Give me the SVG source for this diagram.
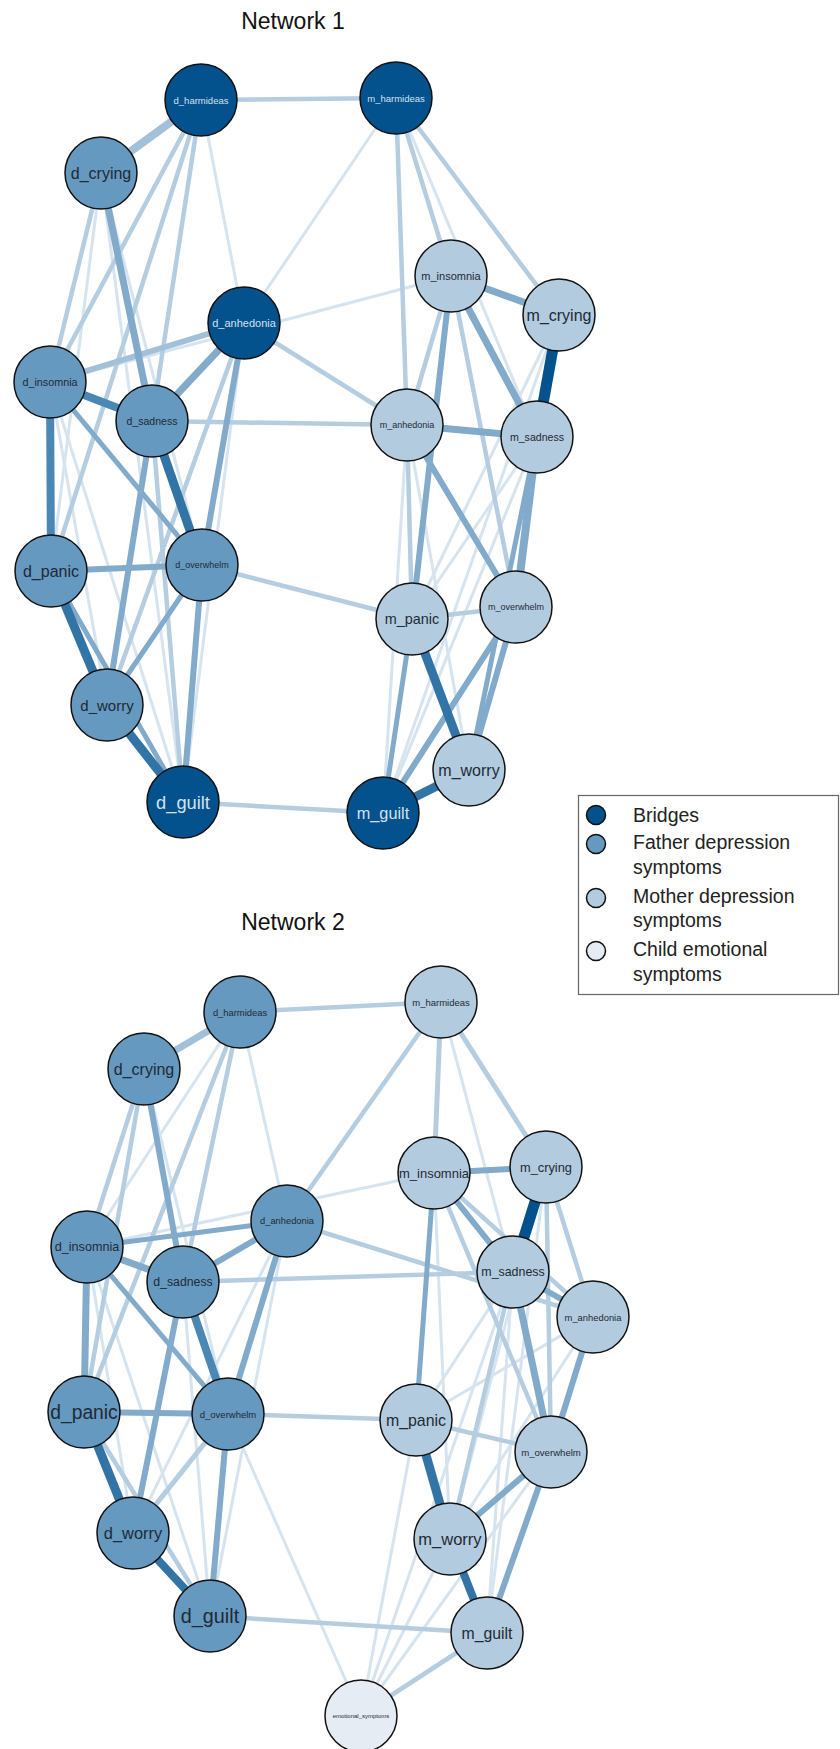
<svg xmlns="http://www.w3.org/2000/svg" width="840" height="1749" viewBox="0 0 840 1749">
<style>
text{font-family:"Liberation Sans",Arial,sans-serif;text-anchor:middle;dominant-baseline:central}
.title{font-size:23px;fill:#111;dominant-baseline:auto}
.n circle{stroke:#111;stroke-width:1.5}
.br{fill:#03518d}
.fa{fill:#6699bf}
.mo{fill:#b3cbde}
.ch{fill:#e5ecf3}
.lt{fill:#d3e2ef}
.dk{fill:#1e2a36}
line{stroke-linecap:butt}
.w1{stroke:#d6e4ef;stroke-width:3}
.w2{stroke:#b5cde0;stroke-width:4.5}
.w3{stroke:#a2c0d8;stroke-width:7}
.w4{stroke:#81aacb;stroke-width:6}
.w5{stroke:#4b87b5;stroke-width:8}
.w6{stroke:#3374a6;stroke-width:9}
.w7{stroke:#03528e;stroke-width:11}
.leg text{text-anchor:start;dominant-baseline:auto;font-size:19.5px;fill:#222}
</style>
<text class="title" x="293" y="29">Network 1</text>
<text class="title" x="293" y="930">Network 2</text>
<g id="connectors">
<!-- Network 1 -->
<line class="w1" x1="201" y1="100" x2="244" y2="323"/>
<line class="w1" x1="396" y1="98" x2="244" y2="323"/>
<line class="w1" x1="50" y1="382" x2="451" y2="276"/>
<line class="w1" x1="101" y1="173" x2="51" y2="571"/>
<line class="w1" x1="101" y1="173" x2="183" y2="802"/>
<line class="w1" x1="101" y1="173" x2="202" y2="565"/>
<line class="w1" x1="244" y1="323" x2="183" y2="802"/>
<line class="w1" x1="50" y1="382" x2="183" y2="802"/>
<line class="w1" x1="50" y1="382" x2="107" y2="705"/>
<line class="w1" x1="396" y1="98" x2="537" y2="437"/>
<line class="w1" x1="559" y1="315" x2="412" y2="619"/>
<line class="w1" x1="559" y1="315" x2="383" y2="813"/>
<line class="w1" x1="407" y1="425" x2="469" y2="770"/>
<line class="w1" x1="407" y1="425" x2="383" y2="813"/>
<line class="w1" x1="537" y1="437" x2="412" y2="619"/>
<line class="w1" x1="537" y1="437" x2="383" y2="813"/>
<line class="w2" x1="201" y1="100" x2="396" y2="98"/>
<line class="w2" x1="201" y1="100" x2="50" y2="382"/>
<line class="w2" x1="201" y1="100" x2="152" y2="421"/>
<line class="w2" x1="201" y1="100" x2="51" y2="571"/>
<line class="w2" x1="101" y1="173" x2="50" y2="382"/>
<line class="w2" x1="244" y1="323" x2="107" y2="705"/>
<line class="w2" x1="152" y1="421" x2="183" y2="802"/>
<line class="w2" x1="152" y1="421" x2="407" y2="425"/>
<line class="w2" x1="244" y1="323" x2="407" y2="425"/>
<line class="w2" x1="202" y1="565" x2="412" y2="619"/>
<line class="w2" x1="183" y1="802" x2="383" y2="813"/>
<line class="w2" x1="396" y1="98" x2="451" y2="276"/>
<line class="w2" x1="396" y1="98" x2="559" y2="315"/>
<line class="w2" x1="396" y1="98" x2="407" y2="425"/>
<line class="w2" x1="451" y1="276" x2="407" y2="425"/>
<line class="w2" x1="451" y1="276" x2="516" y2="607"/>
<line class="w2" x1="407" y1="425" x2="412" y2="619"/>
<line class="w2" x1="412" y1="619" x2="516" y2="607"/>
<line class="w3" x1="201" y1="100" x2="101" y2="173" style="stroke-width:8"/>
<line class="w3" x1="50" y1="382" x2="244" y2="323" style="stroke-width:6"/>
<line class="w4" x1="101" y1="173" x2="152" y2="421" style="stroke-width:7"/>
<line class="w4" x1="244" y1="323" x2="152" y2="421" style="stroke-width:7"/>
<line class="w4" x1="244" y1="323" x2="202" y2="565"/>
<line class="w4" x1="50" y1="382" x2="202" y2="565" style="stroke-width:5"/>
<line class="w4" x1="152" y1="421" x2="107" y2="705"/>
<line class="w4" x1="51" y1="571" x2="202" y2="565"/>
<line class="w4" x1="51" y1="571" x2="183" y2="802" style="stroke-width:5"/>
<line class="w4" x1="107" y1="705" x2="202" y2="565" style="stroke-width:5"/>
<line class="w4" x1="202" y1="565" x2="183" y2="802"/>
<line class="w4" x1="451" y1="276" x2="559" y2="315" style="stroke-width:7"/>
<line class="w4" x1="451" y1="276" x2="412" y2="619"/>
<line class="w4" x1="451" y1="276" x2="537" y2="437" style="stroke-width:7"/>
<line class="w4" x1="407" y1="425" x2="537" y2="437" style="stroke-width:7"/>
<line class="w4" x1="407" y1="425" x2="516" y2="607"/>
<line class="w4" x1="537" y1="437" x2="516" y2="607" style="stroke-width:8"/>
<line class="w4" x1="537" y1="437" x2="469" y2="770" style="stroke-width:5"/>
<line class="w4" x1="412" y1="619" x2="383" y2="813" style="stroke-width:5"/>
<line class="w4" x1="516" y1="607" x2="469" y2="770"/>
<line class="w4" x1="516" y1="607" x2="383" y2="813"/>
<line class="w5" x1="50" y1="382" x2="152" y2="421"/>
<line class="w5" x1="50" y1="382" x2="51" y2="571"/>
<line class="w6" x1="152" y1="421" x2="202" y2="565"/>
<line class="w6" x1="51" y1="571" x2="107" y2="705"/>
<line class="w6" x1="107" y1="705" x2="183" y2="802"/>
<line class="w6" x1="412" y1="619" x2="469" y2="770"/>
<line class="w6" x1="469" y1="770" x2="383" y2="813"/>
<line class="w7" x1="559" y1="315" x2="537" y2="437"/>
<!-- Network 2 -->
<line class="w1" x1="240" y1="1012" x2="287" y2="1221"/>
<line class="w1" x1="240" y1="1012" x2="87" y2="1247"/>
<line class="w1" x1="434" y1="1173" x2="87" y2="1247"/>
<line class="w1" x1="144" y1="1069" x2="228" y2="1414"/>
<line class="w1" x1="287" y1="1221" x2="133" y2="1533"/>
<line class="w1" x1="287" y1="1221" x2="210" y2="1616"/>
<line class="w1" x1="87" y1="1247" x2="210" y2="1616"/>
<line class="w1" x1="87" y1="1247" x2="133" y2="1533"/>
<line class="w1" x1="183" y1="1282" x2="210" y2="1616"/>
<line class="w1" x1="228" y1="1414" x2="361" y2="1715"/>
<line class="w1" x1="441" y1="1002" x2="513" y2="1272"/>
<line class="w1" x1="546" y1="1167" x2="450" y2="1539"/>
<line class="w1" x1="546" y1="1167" x2="487" y2="1633"/>
<line class="w1" x1="513" y1="1272" x2="416" y2="1420"/>
<line class="w1" x1="513" y1="1272" x2="487" y2="1633"/>
<line class="w1" x1="593" y1="1317" x2="450" y2="1539"/>
<line class="w1" x1="593" y1="1317" x2="416" y2="1420"/>
<line class="w1" x1="434" y1="1173" x2="450" y2="1539"/>
<line class="w1" x1="416" y1="1420" x2="361" y2="1715"/>
<line class="w1" x1="513" y1="1272" x2="361" y2="1715"/>
<line class="w1" x1="450" y1="1539" x2="361" y2="1715"/>
<line class="w1" x1="551" y1="1452" x2="361" y2="1715"/>
<line class="w2" x1="240" y1="1012" x2="441" y2="1002"/>
<line class="w2" x1="240" y1="1012" x2="84" y2="1412"/>
<line class="w2" x1="240" y1="1012" x2="183" y2="1282"/>
<line class="w2" x1="441" y1="1002" x2="287" y2="1221"/>
<line class="w2" x1="144" y1="1069" x2="87" y2="1247"/>
<line class="w2" x1="144" y1="1069" x2="84" y2="1412"/>
<line class="w2" x1="287" y1="1221" x2="593" y2="1317"/>
<line class="w2" x1="183" y1="1282" x2="513" y2="1272"/>
<line class="w2" x1="84" y1="1412" x2="210" y2="1616"/>
<line class="w2" x1="133" y1="1533" x2="228" y2="1414" style="stroke-width:5"/>
<line class="w2" x1="228" y1="1414" x2="416" y2="1420"/>
<line class="w2" x1="210" y1="1616" x2="487" y2="1633"/>
<line class="w2" x1="441" y1="1002" x2="434" y2="1173" style="stroke-width:5"/>
<line class="w2" x1="441" y1="1002" x2="546" y2="1167" style="stroke-width:5"/>
<line class="w2" x1="434" y1="1173" x2="593" y2="1317"/>
<line class="w2" x1="434" y1="1173" x2="551" y2="1452"/>
<line class="w2" x1="546" y1="1167" x2="593" y2="1317"/>
<line class="w2" x1="546" y1="1167" x2="551" y2="1452"/>
<line class="w2" x1="513" y1="1272" x2="450" y2="1539"/>
<line class="w2" x1="416" y1="1420" x2="551" y2="1452"/>
<line class="w2" x1="487" y1="1633" x2="361" y2="1715"/>
<line class="w3" x1="240" y1="1012" x2="144" y2="1069"/>
<line class="w4" x1="144" y1="1069" x2="183" y2="1282"/>
<line class="w4" x1="287" y1="1221" x2="87" y2="1247" style="stroke-width:5"/>
<line class="w4" x1="287" y1="1221" x2="183" y2="1282"/>
<line class="w4" x1="287" y1="1221" x2="228" y2="1414"/>
<line class="w4" x1="87" y1="1247" x2="183" y2="1282" style="stroke-width:7"/>
<line class="w4" x1="87" y1="1247" x2="84" y2="1412" style="stroke-width:7"/>
<line class="w4" x1="87" y1="1247" x2="228" y2="1414" style="stroke-width:5"/>
<line class="w4" x1="183" y1="1282" x2="133" y2="1533"/>
<line class="w4" x1="84" y1="1412" x2="228" y2="1414"/>
<line class="w4" x1="228" y1="1414" x2="210" y2="1616"/>
<line class="w4" x1="434" y1="1173" x2="546" y2="1167"/>
<line class="w4" x1="434" y1="1173" x2="513" y2="1272"/>
<line class="w4" x1="434" y1="1173" x2="416" y2="1420" style="stroke-width:5"/>
<line class="w4" x1="513" y1="1272" x2="593" y2="1317"/>
<line class="w4" x1="513" y1="1272" x2="551" y2="1452" style="stroke-width:7"/>
<line class="w4" x1="593" y1="1317" x2="551" y2="1452"/>
<line class="w4" x1="450" y1="1539" x2="551" y2="1452"/>
<line class="w4" x1="551" y1="1452" x2="487" y2="1633"/>
<line class="w5" x1="183" y1="1282" x2="228" y2="1414"/>
<line class="w6" x1="84" y1="1412" x2="133" y2="1533"/>
<line class="w6" x1="133" y1="1533" x2="210" y2="1616" style="stroke-width:8"/>
<line class="w6" x1="416" y1="1420" x2="450" y2="1539"/>
<line class="w6" x1="450" y1="1539" x2="487" y2="1633" style="stroke-width:8"/>
<line class="w7" x1="546" y1="1167" x2="513" y2="1272"/>
</g>
<!-- Network 1 nodes -->
<g id="n1_d_harmideas" class="n"><circle class="br" cx="201" cy="100" r="36"/><text class="lt" x="201" y="100" font-size="9.5">d_harmideas</text></g>
<g id="n1_m_harmideas" class="n"><circle class="br" cx="396" cy="98" r="36"/><text class="lt" x="396" y="98" font-size="9.5">m_harmideas</text></g>
<g id="n1_d_crying" class="n"><circle class="fa" cx="101" cy="173" r="36"/><text class="dk" x="101" y="173" font-size="16">d_crying</text></g>
<g id="n1_d_anhedonia" class="n"><circle class="br" cx="244" cy="323" r="36"/><text class="lt" x="244" y="323" font-size="11">d_anhedonia</text></g>
<g id="n1_d_insomnia" class="n"><circle class="fa" cx="50" cy="382" r="36"/><text class="dk" x="50" y="382" font-size="10.8">d_insomnia</text></g>
<g id="n1_d_sadness" class="n"><circle class="fa" cx="152" cy="421" r="36"/><text class="dk" x="152" y="421" font-size="10.5">d_sadness</text></g>
<g id="n1_m_insomnia" class="n"><circle class="mo" cx="451" cy="276" r="36"/><text class="dk" x="451" y="276" font-size="11">m_insomnia</text></g>
<g id="n1_m_crying" class="n"><circle class="mo" cx="559" cy="315" r="36"/><text class="dk" x="559" y="315" font-size="16">m_crying</text></g>
<g id="n1_m_anhedonia" class="n"><circle class="mo" cx="407" cy="425" r="36"/><text class="dk" x="407" y="425" font-size="9">m_anhedonia</text></g>
<g id="n1_m_sadness" class="n"><circle class="mo" cx="537" cy="437" r="36"/><text class="dk" x="537" y="437" font-size="10.6">m_sadness</text></g>
<g id="n1_d_panic" class="n"><circle class="fa" cx="51" cy="571" r="36"/><text class="dk" x="51" y="571" font-size="16">d_panic</text></g>
<g id="n1_d_overwhelm" class="n"><circle class="fa" cx="202" cy="565" r="36"/><text class="dk" x="202" y="565" font-size="9">d_overwhelm</text></g>
<g id="n1_d_worry" class="n"><circle class="fa" cx="107" cy="705" r="36"/><text class="dk" x="107" y="705" font-size="15">d_worry</text></g>
<g id="n1_d_guilt" class="n"><circle class="br" cx="183" cy="802" r="36"/><text class="lt" x="183" y="802" font-size="18.3">d_guilt</text></g>
<g id="n1_m_panic" class="n"><circle class="mo" cx="412" cy="619" r="36"/><text class="dk" x="412" y="619" font-size="14.4">m_panic</text></g>
<g id="n1_m_overwhelm" class="n"><circle class="mo" cx="516" cy="607" r="36"/><text class="dk" x="516" y="607" font-size="9">m_overwhelm</text></g>
<g id="n1_m_worry" class="n"><circle class="mo" cx="469" cy="770" r="36"/><text class="dk" x="469" y="770" font-size="16">m_worry</text></g>
<g id="n1_m_guilt" class="n"><circle class="br" cx="383" cy="813" r="36"/><text class="lt" x="383" y="813" font-size="16.3">m_guilt</text></g>
<!-- Network 2 nodes -->
<g id="n2_d_harmideas" class="n"><circle class="fa" cx="240" cy="1012" r="36"/><text class="dk" x="240" y="1012" font-size="9.4">d_harmideas</text></g>
<g id="n2_m_harmideas" class="n"><circle class="mo" cx="441" cy="1002" r="36"/><text class="dk" x="441" y="1002" font-size="9.5">m_harmideas</text></g>
<g id="n2_d_crying" class="n"><circle class="fa" cx="144" cy="1069" r="36"/><text class="dk" x="144" y="1069" font-size="16">d_crying</text></g>
<g id="n2_d_anhedonia" class="n"><circle class="fa" cx="287" cy="1221" r="36"/><text class="dk" x="287" y="1221" font-size="9.3">d_anhedonia</text></g>
<g id="n2_d_insomnia" class="n"><circle class="fa" cx="87" cy="1247" r="36"/><text class="dk" x="87" y="1247" font-size="12.6">d_insomnia</text></g>
<g id="n2_d_sadness" class="n"><circle class="fa" cx="183" cy="1282" r="36"/><text class="dk" x="183" y="1282" font-size="12.3">d_sadness</text></g>
<g id="n2_m_insomnia" class="n"><circle class="mo" cx="434" cy="1173" r="36"/><text class="dk" x="434" y="1173" font-size="13">m_insomnia</text></g>
<g id="n2_m_crying" class="n"><circle class="mo" cx="546" cy="1167" r="36"/><text class="dk" x="546" y="1167" font-size="12.8">m_crying</text></g>
<g id="n2_m_sadness" class="n"><circle class="mo" cx="513" cy="1272" r="36"/><text class="dk" x="513" y="1272" font-size="12.4">m_sadness</text></g>
<g id="n2_m_anhedonia" class="n"><circle class="mo" cx="593" cy="1317" r="36"/><text class="dk" x="593" y="1317" font-size="9.4">m_anhedonia</text></g>
<g id="n2_d_panic" class="n"><circle class="fa" cx="84" cy="1412" r="36"/><text class="dk" x="84" y="1412" font-size="19.3">d_panic</text></g>
<g id="n2_d_overwhelm" class="n"><circle class="fa" cx="228" cy="1414" r="36"/><text class="dk" x="228" y="1414" font-size="9.5">d_overwhelm</text></g>
<g id="n2_d_worry" class="n"><circle class="fa" cx="133" cy="1533" r="36"/><text class="dk" x="133" y="1533" font-size="16.4">d_worry</text></g>
<g id="n2_d_guilt" class="n"><circle class="fa" cx="210" cy="1616" r="36"/><text class="dk" x="210" y="1616" font-size="19.8">d_guilt</text></g>
<g id="n2_m_panic" class="n"><circle class="mo" cx="416" cy="1420" r="36"/><text class="dk" x="416" y="1420" font-size="15.9">m_panic</text></g>
<g id="n2_m_overwhelm" class="n"><circle class="mo" cx="551" cy="1452" r="36"/><text class="dk" x="551" y="1452" font-size="9.6">m_overwhelm</text></g>
<g id="n2_m_worry" class="n"><circle class="mo" cx="450" cy="1539" r="36"/><text class="dk" x="450" y="1539" font-size="16.5">m_worry</text></g>
<g id="n2_m_guilt" class="n"><circle class="mo" cx="487" cy="1633" r="36"/><text class="dk" x="487" y="1633" font-size="15.8">m_guilt</text></g>
<g id="n2_emotional_symptoms" class="n"><circle class="ch" cx="361" cy="1716" r="36"/><text class="dk" x="361" y="1716" font-size="6">emotional_symptoms</text></g>
<!-- Legend -->
<g id="legend" class="leg">
<rect x="578.5" y="795.5" width="260" height="199" fill="#fff" stroke="#666" stroke-width="1.2"/>
<g class="n">
<circle class="br" cx="596" cy="815" r="9.5"/>
<circle class="fa" cx="596" cy="844" r="9.5"/>
<circle class="mo" cx="596" cy="898" r="9.5"/>
<circle class="ch" cx="596" cy="951" r="9.5"/>
</g>
<text x="633" y="822">Bridges</text>
<text x="633" y="849">Father depression</text>
<text x="633" y="874">symptoms</text>
<text x="633" y="903">Mother depression</text>
<text x="633" y="927">symptoms</text>
<text x="633" y="956">Child emotional</text>
<text x="633" y="981">symptoms</text>
</g>
</svg>
